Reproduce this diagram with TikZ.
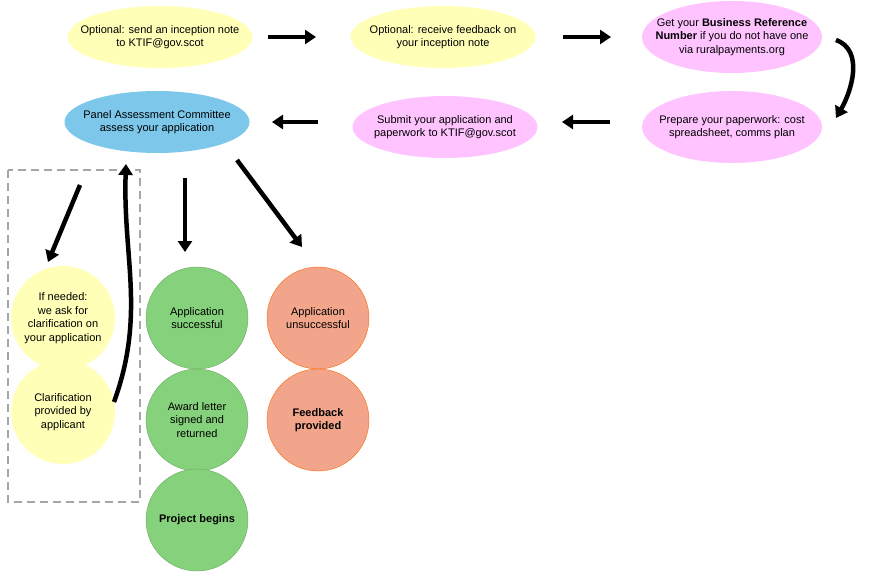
\documentclass[tikz,border=0pt]{standalone}
\usepackage{fontspec}
\setmainfont{Liberation Sans}
\usetikzlibrary{shapes.geometric,arrows.meta,positioning}
\definecolor{incept}{HTML}{FFFFB8}
\definecolor{paper}{HTML}{FFC4FF}
\definecolor{panel}{HTML}{7CC7EA}
\definecolor{success}{HTML}{86D27C}
\definecolor{fail}{HTML}{F2A58A}

\begin{document}
\begin{tikzpicture}[x=1pt, y=-1pt,
    step/.style={ellipse, fill=#1, minimum width=185pt, minimum height=62pt, inner xsep=-40pt, inner ysep=-4pt, align=center, font=\fontsize{11}{13.5}\selectfont},
    stage/.style={circle, fill=#1, minimum size=102pt, inner sep=-25pt, align=center, font=\fontsize{11}{13.5}\selectfont},
    flow/.style={-{Triangle[length=11pt,width=14pt]}, line width=4.5pt}
]
    \useasboundingbox (0,0) rectangle (874,572);
    % top row
    \node [step=incept] (note) at (160,37) {Optional: send an inception note\\ to KTIF@gov.scot};
    \node [step=incept] (feedback) at (443,37) {Optional: receive feedback on\\ your inception note};
    \node [step=paper, minimum width=180pt, minimum height=72pt] (brn) at (732,37) {Get your \textbf{Business Reference}\\ \textbf{Number} if you do not have one\\ via ruralpayments.org};
    % second row
    \node [step=paper, minimum width=180pt, minimum height=72pt] (prepare) at (732,127) {Prepare your paperwork: cost\\ spreadsheet, comms plan};
    \node [step=paper] (submit) at (445,127) {Submit your application and\\ paperwork to KTIF@gov.scot};
    \node [step=panel] (panel) at (157,122) {Panel Assessment Committee\\ assess your application};
    % outcomes
    \draw [gray!70, line width=2pt, dash pattern=on 8pt off 5pt] (8,170) rectangle (140,502);
    \node [stage=incept, minimum size=104pt] (clarify) at (63,318) {If needed:\\ we ask for\\ clarification on\\ your application};
    \node [stage=incept, minimum size=104pt] (provided) at (63,412) {Clarification\\ provided by\\ applicant};
    \node [stage=success, draw=success!80!black] (ok) at (197,318) {Application\\ successful};
    \node [stage=success, draw=success!80!black] (award) at (197,420) {Award letter\\ signed and\\ returned};
    \node [stage=success, draw=success!80!black] (begin) at (197,520) {\textbf{Project begins}};
    \node [stage=fail, draw=orange!80!red] (nok) at (318,318) {Application\\ unsuccessful};
    \node [stage=fail, draw=orange!80!red] (told) at (318,420) {\textbf{Feedback}\\ \textbf{provided}};
    % arrows
    \coordinate (a1) at (268,37); \coordinate (b1) at (316,37);
    \coordinate (a2) at (563,37); \coordinate (b2) at (611,37);
    \coordinate (a3) at (610,122); \coordinate (b3) at (562,122);
    \coordinate (a4) at (318,122); \coordinate (b4) at (272,122);
    \coordinate (c1) at (836,40); \coordinate (c2) at (836,118);
    \coordinate (d1) at (80,185); \coordinate (d2) at (48,262);
    \coordinate (e1) at (114,402); \coordinate (e2) at (126,164);
    \coordinate (f1) at (185,178); \coordinate (f2) at (185,252);
    \coordinate (g1) at (237,160); \coordinate (g2) at (302,247);
    \draw [flow] (a1) -- (b1);
    \draw [flow] (a2) -- (b2);
    \draw [flow] (c1) to [out=-20, in=60] (c2);
    \draw [flow] (a3) -- (b3);
    \draw [flow] (a4) -- (b4);
    \draw [flow] (d1) -- (d2);
    \draw [flow] (e1) to [out=70, in=-92] (e2);
    \draw [flow] (f1) -- (f2);
    \draw [flow] (g1) -- (g2);
\end{tikzpicture}
\end{document}
